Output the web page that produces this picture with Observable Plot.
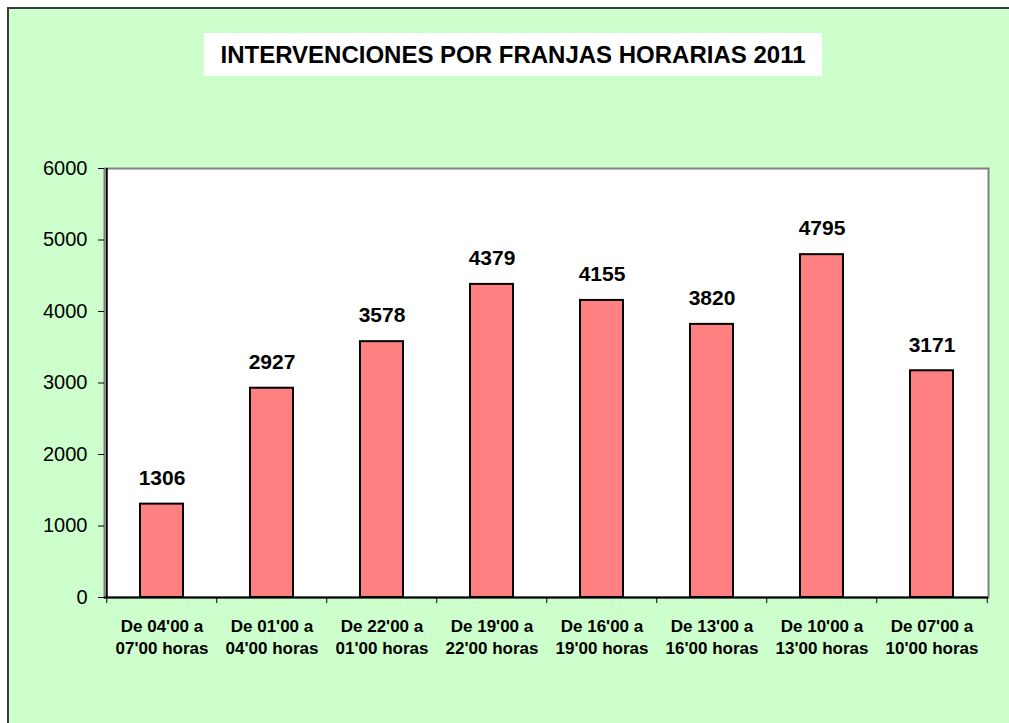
<!DOCTYPE html>
<html>
<head>
<meta charset="utf-8">
<script src="https://cdn.jsdelivr.net/npm/d3@7"></script>
<script src="https://cdn.jsdelivr.net/npm/@observablehq/plot@0.6"></script>
<style>
  html, body { margin: 0; padding: 0; background: #ffffff; }
  #wrap { position: relative; width: 1009px; height: 723px; overflow: hidden; font-family: "Liberation Sans", Arial, sans-serif; }
  #bg { position: absolute; left: 7px; top: 7px; width: 1100px; height: 800px; background: #ccffcc; border-top: 2px solid #3a3a3a; border-left: 2px solid #3a3a3a; }
  #title { position: absolute; left: 204px; top: 33px; width: 618px; height: 43px; background: #ffffff; color: #000; font-weight: bold; font-size: 24px; line-height: 43px; text-align: center; white-space: nowrap; }
  #chart { position: absolute; left: 0; top: 0; }
</style>
</head>
<body>
<div id="wrap">
  <div id="bg"></div>
  <div id="chart"></div>
  <div id="title">INTERVENCIONES POR FRANJAS HORARIAS 2011</div>
</div>
<script>
const categories = [
  "De 04'00 a 07'00 horas",
  "De 01'00 a 04'00 horas",
  "De 22'00 a 01'00 horas",
  "De 19'00 a 22'00 horas",
  "De 16'00 a 19'00 horas",
  "De 13'00 a 16'00 horas",
  "De 10'00 a 13'00 horas",
  "De 07'00 a 10'00 horas"
];
const values = [1306, 2927, 3578, 4379, 4155, 3820, 4795, 3171];
const yTicks = [0, 1000, 2000, 3000, 4000, 5000, 6000];

const data = categories.map((c, i) => ({category: c, value: values[i]}));

const W = 1009, H = 723, ML = 104, MR = 21, MT = 168, MB = 126;
const step = (W - ML - MR) / categories.length;

const chart = Plot.plot({
  width: W,
  height: H,
  marginLeft: ML,
  marginRight: MR,
  marginTop: MT,
  marginBottom: MB,
  style: {background: "transparent", color: "#000", fontFamily: "'Liberation Sans', Arial, sans-serif", overflow: "visible"},
  x: {type: "band", domain: categories, paddingInner: 0.61, paddingOuter: 0.305, align: 0.5},
  y: {domain: [0, 6000]},
  marks: [
    Plot.frame({fill: "#ffffff", stroke: "#808080", strokeWidth: 2}),
    Plot.barY(data, {x: "category", y: "value", fill: "#ff8080", stroke: "#000", strokeWidth: 2}),
    Plot.ruleY([0], {stroke: "#000", strokeWidth: 2}),
    Plot.ruleX([categories[0]], {x: d => d, dx: -step / 2, y1: 0, y2: 6000, stroke: "#000", strokeWidth: 2}),
    Plot.ruleX(categories, {x: d => d, dx: -step / 2, y1: 0, y2: 0, insetBottom: -6, stroke: "#000", strokeWidth: 1}),
    Plot.ruleX([categories[categories.length - 1]], {x: d => d, dx: step / 2, y1: 0, y2: 0, insetBottom: -6, stroke: "#000", strokeWidth: 1}),
    Plot.axisY({ticks: yTicks, tickSize: 6, tickPadding: 11, fontSize: 20, label: null, tickFormat: d => String(d)}),
    Plot.axisX({tickSize: 0, tickPadding: 20, fontSize: 17, fontWeight: "bold", lineHeight: 1.24, label: null, tickFormat: d => d.replace(" a ", " a\n")}),
    Plot.text(data, {x: "category", y: "value", text: d => String(d.value), dy: -26, fontSize: 21, fontWeight: "bold", fill: "#000"})
  ]
});
document.getElementById("chart").appendChild(chart);
</script>
</body>
</html>
